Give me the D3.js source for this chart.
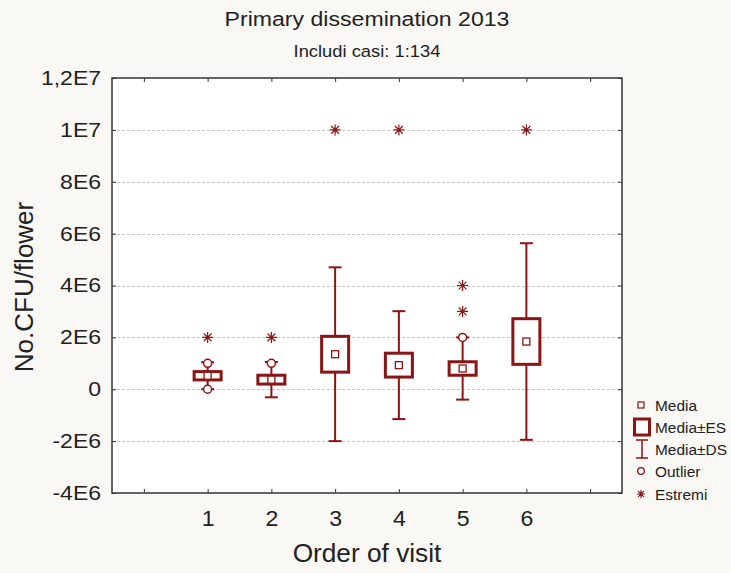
<!DOCTYPE html>
<html><head><meta charset="utf-8">
<script src="https://cdn.jsdelivr.net/npm/d3@7"></script>
<style>
html,body{margin:0;padding:0;background:#f9f8f4;}
svg{display:block;font-family:"Liberation Sans",Arial,sans-serif;}
</style></head>
<body>
<svg id="chart" width="731" height="573"></svg>
<script>
// Data (values in CFU/flower)
const categories = [1, 2, 3, 4, 5, 6];
const means = [0.52e6, 0.37e6, 1.35e6, 0.93e6, 0.80e6, 1.84e6];
const stdErr = [0.16e6, 0.17e6, 0.69e6, 0.46e6, 0.26e6, 0.88e6];
const stdDev = [0.52e6, 0.68e6, 3.35e6, 2.08e6, 1.20e6, 3.79e6];
const outliers = [[1.0e6, 0.0], [1.0e6], [], [], [2.0e6], []];
const extremes = [[2.0e6], [2.0e6], [1.0e7], [1.0e7], [3.0e6, 4.0e6], [1.0e7]];
const yTicks = [-4e6, -2e6, 0, 2e6, 4e6, 6e6, 8e6, 1e7, 1.2e7];
const yTickLabels = ["-4E6", "-2E6", "0", "2E6", "4E6", "6E6", "8E6", "1E7", "1,2E7"];
const xTicks = [0, 1, 2, 3, 4, 5, 6, 7];
const legendLabels = ["Media", "Media±ES", "Media±DS", "Outlier", "Estremi"];

const col = "#8b1414";
const txt = "#222";
const svg = d3.select("#chart");
const L = 112, R = 622, T = 78, B = 493;

const x = d3.scaleLinear().domain([-0.5, 7.5]).range([L, R]);
const y = d3.scaleLinear().domain([-4e6, 1.2e7]).range([B, T]);

// plot background
svg.append("rect").attr("x", L).attr("y", T).attr("width", R - L).attr("height", B - T).attr("fill", "#fff");

// gridlines
svg.append("g").selectAll("line").data(yTicks.filter(v => v > -4e6 && v < 1.2e7)).join("line")
  .attr("x1", L).attr("x2", R).attr("y1", d => Math.round(y(d)) + 0.5).attr("y2", d => Math.round(y(d)) + 0.5)
  .attr("stroke", "#c4c4c4").attr("stroke-width", 1).attr("stroke-dasharray", "3,2");

// axes
const ySX = 1.15;
const fmtY = d => yTickLabels[yTicks.indexOf(d)];
const yAxisL = d3.axisLeft(y).tickValues(yTicks).tickFormat(fmtY).tickSizeInner(-4).tickSizeOuter(0).tickPadding(11 / ySX);
const gy = svg.append("g").attr("transform", `translate(${L},0)`).call(yAxisL);
gy.select(".domain").remove();
gy.selectAll("text").attr("font-size", 20).attr("fill", txt).attr("font-family", "Liberation Sans, Arial, sans-serif")
  .attr("transform", `scale(${ySX},1)`);
gy.selectAll("line").attr("stroke", "#333");

const gyR = svg.append("g").attr("transform", `translate(${R},0)`).call(d3.axisRight(y).tickValues(yTicks).tickFormat("").tickSizeInner(-4).tickSizeOuter(0));
gyR.select(".domain").remove();
gyR.selectAll("line").attr("stroke", "#333");

const xAxisB = d3.axisBottom(x).tickValues(xTicks).tickFormat(d => (d >= 1 && d <= 6) ? d : "").tickSizeInner(-4).tickSizeOuter(0).tickPadding(17);
const gx = svg.append("g").attr("transform", `translate(0,${B})`).call(xAxisB);
gx.select(".domain").remove();
gx.selectAll("text").attr("font-size", 22).attr("fill", txt).attr("font-family", "Liberation Sans, Arial, sans-serif")
  .attr("transform", "scale(1.05,1)");
gx.selectAll("line").attr("stroke", "#333");

const gxT = svg.append("g").attr("transform", `translate(0,${T})`).call(d3.axisTop(x).tickValues(xTicks).tickFormat("").tickSizeInner(-4).tickSizeOuter(0));
gxT.select(".domain").remove();
gxT.selectAll("line").attr("stroke", "#333");

// frame
svg.append("rect").attr("x", L).attr("y", T).attr("width", R - L).attr("height", B - T)
  .attr("fill", "none").attr("stroke", "#333").attr("stroke-width", 1.5);

// data marks
const data = categories.map((c, i) => ({c, m: means[i], se: stdErr[i], sd: stdDev[i], out: outliers[i], ext: extremes[i]}));
const boxW = 27, capW = 13;
const g = svg.append("g");
data.forEach(d => {
  const cx = x(d.c);
  g.append("line").attr("x1", cx).attr("x2", cx).attr("y1", y(d.m + d.sd)).attr("y2", y(d.m - d.sd))
    .attr("stroke", col).attr("stroke-width", 2);
  [d.m + d.sd, d.m - d.sd].forEach(v => {
    g.append("line").attr("x1", cx - capW / 2).attr("x2", cx + capW / 2).attr("y1", y(v)).attr("y2", y(v))
      .attr("stroke", col).attr("stroke-width", 2);
  });
  g.append("rect").attr("x", cx - boxW / 2).attr("y", y(d.m + d.se)).attr("width", boxW)
    .attr("height", y(d.m - d.se) - y(d.m + d.se)).attr("fill", "#fff").attr("stroke", col).attr("stroke-width", 3);
  g.append("rect").attr("x", cx - 3.5).attr("y", y(d.m) - 3.5).attr("width", 7).attr("height", 7)
    .attr("fill", "#fff").attr("stroke", col).attr("stroke-width", 1.3);
  d.out.forEach(v => {
    g.append("circle").attr("cx", cx).attr("cy", y(v)).attr("r", 4).attr("fill", "#fff")
      .attr("stroke", col).attr("stroke-width", 1.5);
  });
  d.ext.forEach(v => drawStar(g, cx, y(v), 5.5));
});

function drawStar(sel, cx, cy, r) {
  const p = d3.path();
  for (let k = 0; k < 4; k++) {
    const a = k * Math.PI / 4;
    p.moveTo(cx - r * Math.cos(a), cy - r * Math.sin(a));
    p.lineTo(cx + r * Math.cos(a), cy + r * Math.sin(a));
  }
  sel.append("path").attr("d", p.toString()).attr("stroke", col).attr("stroke-width", 1.2).attr("fill", "none");
}

function label(px, py, text, size, sx, rot) {
  const gg = svg.append("g").attr("transform", `translate(${px},${py})` + (rot ? ` rotate(${rot})` : "") + ` scale(${sx},1)`);
  return gg.append("text").attr("text-anchor", "middle").attr("font-size", size).attr("fill", txt).text(text);
}

// titles
label(367, 26, "Primary dissemination 2013", 21, 1.1);
label(367, 57, "Includi casi: 1:134", 17, 1.08);
label(367, 562, "Order of visit", 25, 1.05);
label(33, 287, "No.CFU/flower", 25, 1.04, -90);

// legend
const lg = svg.append("g");
const ly = [405, 427, 449, 471, 494];
legendLabels.forEach((t, i) => {
  lg.append("g").attr("transform", `translate(655,${ly[i] + 5.5}) scale(1.03,1)`)
    .append("text").attr("font-size", 15).attr("fill", txt).text(t);
});
lg.append("rect").attr("x", 638).attr("y", ly[0] - 3).attr("width", 6).attr("height", 6).attr("fill", "none").attr("stroke", col).attr("stroke-width", 1.2);
lg.append("rect").attr("x", 634.5).attr("y", ly[1] - 8).attr("width", 15).attr("height", 16).attr("fill", "#fff").attr("stroke", col).attr("stroke-width", 3);
lg.append("line").attr("x1", 642).attr("x2", 642).attr("y1", ly[2] - 9).attr("y2", ly[2] + 9).attr("stroke", col).attr("stroke-width", 1.5);
lg.append("line").attr("x1", 636).attr("x2", 648).attr("y1", ly[2] - 9).attr("y2", ly[2] - 9).attr("stroke", col).attr("stroke-width", 1.5);
lg.append("line").attr("x1", 636).attr("x2", 648).attr("y1", ly[2] + 9).attr("y2", ly[2] + 9).attr("stroke", col).attr("stroke-width", 1.5);
lg.append("circle").attr("cx", 641).attr("cy", ly[3]).attr("r", 3.3).attr("fill", "none").attr("stroke", col).attr("stroke-width", 1.3);
drawStar(lg, 641, ly[4], 4);
</script>
</body></html>
